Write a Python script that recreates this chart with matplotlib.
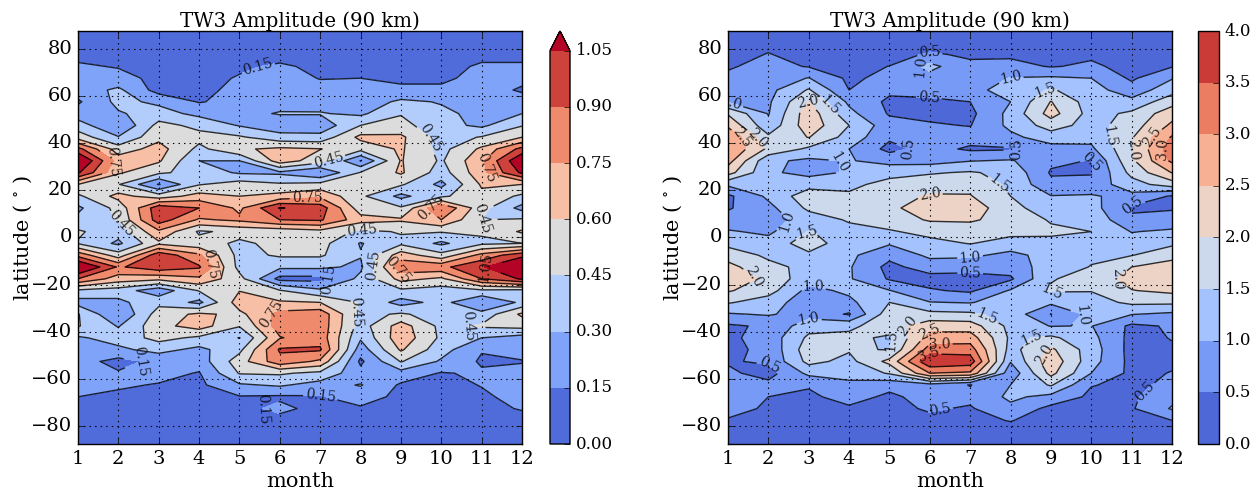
import numpy as np
import matplotlib
matplotlib.use("Agg")
import matplotlib.pyplot as plt

plt.style.use("classic")
plt.rcParams["font.family"] = ["DejaVu Serif"]
plt.rcParams["mathtext.fontset"] = "dejavuserif"

W, H = 1260.0, 490.0

months = [1, 2, 3, 4, 5, 6, 7, 8, 9, 10, 11, 12]
lats = [87.5, 82.5, 77.5, 72.5, 67.5, 62.5, 57.5, 52.5, 47.5, 42.5, 37.5, 32.5,
        27.5, 22.5, 17.5, 12.5, 7.5, 2.5, -2.5, -7.5, -12.5, -17.5, -22.5, -27.5,
        -32.5, -37.5, -42.5, -47.5, -52.5, -57.5, -62.5, -67.5, -72.5, -77.5, -82.5, -87.5]

# one row per month, north to south
left_amp = [
    [.07, .08, .11, .17, .21, .22, .13, .22, .37, .53, .95, 1.25, 1.07, .60, .42, .27, .34, .47, .44, .85, 1.25, .90, .42, .24, .46, .46, .28, .24, .21, .19, .17, .15, .12, .10, .08, .07],
    [.07, .08, .10, .14, .20, .33, .34, .285, .15, .31, .52, .68, .62, .46, .65, .50, .46, .36, .27, .52, .88, .68, .38, .26, .15, .29, .36, .27, .10, .165, .17, .12, .10, .09, .08, .07],
    [.07, .08, .09, .09, .11, .09, .27, .36, .50, .56, .66, .62, .48, .14, .52, 1.0, .98, .72, .57, 1.0, 1.0, .64, .20, .41, .52, .55, .50, .35, .19, .20, .14, .12, .10, .08, .07, .06],
    [.07, .08, .09, .10, .11, .12, .14, .26, .41, .50, .41, .30, .38, .44, .66, .90, .73, .43, .50, .78, .92, .72, .46, .26, .63, .67, .42, .26, .22, .14, .12, .11, .09, .08, .07, .06],
    [.07, .08, .10, .13, .16, .18, .20, .26, .29, .47, .58, .30, .28, .52, .60, .72, .78, .49, .43, .40, .40, .50, .595, .68, .56, .46, .295, .41, .53, .46, .28, .14, .11, .09, .08, .07],
    [.06, .07, .10, .17, .20, .22, .25, .31, .20, .36, .63, .68, .27, .47, .65, 1.06, .90, .50, .48, .47, .33, .10, .46, .62, .80, .82, .74, .92, .85, .47, .32, .13, .18, .11, .08, .07],
    [.07, .08, .09, .12, .145, .19, .24, .31, .20, .35, .605, .52, .15, .50, .72, .98, .92, .55, .50, .47, .33, .10, .33, .60, .85, .85, .84, .92, .72, .41, .24, .14, .11, .09, .08, .07],
    [.07, .08, .09, .10, .15, .18, .21, .27, .45, .64, .50, .145, .46, .52, .48, .52, .66, .42, .29, .31, .27, .34, .38, .44, .40, .38, .32, .22, .12, .20, .31, .22, .13, .10, .08, .07],
    [.07, .08, .09, .10, .12, .18, .33, .44, .50, .63, .62, .61, .62, .47, .26, .47, .62, .46, .42, .68, .85, .65, .42, .24, .47, .67, .70, .62, .46, .24, .13, .11, .10, .09, .08, .07],
    [.07, .08, .09, .10, .12, .18, .29, .33, .35, .38, .40, .43, .38, .26, .42, .90, .75, .46, .27, .50, .86, .57, .38, .35, .38, .41, .42, .36, .28, .14, .11, .10, .09, .08, .07, .06],
    [.06, .08, .11, .17, .20, .22, .24, .26, .27, .46, .63, .72, .70, .62, .56, .50, .45, .47, .42, .80, 1.03, .90, .42, .15, .35, .47, .30, .16, .13, .17, .155, .13, .11, .09, .08, .07],
    [.07, .08, .11, .17, .19, .13, .22, .30, .44, .60, .95, 1.20, 1.08, .60, .42, .25, .47, .62, .45, 1.0, 1.30, 1.07, .40, .33, .63, .50, .24, .22, .14, .20, .20, .19, .16, .10, .08, .07],
]
right_amp = [
    [.25, .30, .35, .45, .60, .75, .95, 1.95, 2.40, 2.95, 2.98, 2.70, 2.20, 1.10, .40, .45, .70, 1.05, 1.35, 1.80, 2.15, 2.40, 2.05, 1.55, .95, .42, .40, .40, .45, .60, .70, .80, .70, .45, .35, .30],
    [.30, .40, .52, .65, .75, .85, .92, .97, 1.15, 1.60, 1.90, 1.10, 1.08, 1.10, 1.10, .85, .75, .90, 1.20, 1.40, 1.65, 1.85, 1.70, 1.25, 1.05, .58, .70, .60, .58, .30, .65, .50, .42, .38, .32, .28],
    [.25, .30, .35, .47, 1.02, 1.55, 2.02, 2.30, 2.30, 2.02, 1.40, .90, .85, 1.30, 1.80, 1.60, 1.25, 1.52, 1.75, 1.40, 1.35, 1.20, .85, .70, .80, 1.30, 1.60, 1.80, 1.65, 1.12, .55, .40, .38, .32, .28, .25],
    [.22, .27, .30, .33, .40, .50, .90, 1.15, 1.50, 1.30, 1.00, 1.03, 1.05, 1.35, 1.60, 1.75, 1.55, 1.35, 1.20, 1.10, 1.05, 1.05, 1.10, .88, .45, 1.40, 1.62, 1.55, 1.35, 1.15, .90, .70, .42, .37, .30, .25],
    [.22, .27, .32, .51, .65, .60, .40, .45, .70, .58, .35, .85, 1.30, 1.70, 1.80, 1.90, 1.75, 1.45, 1.05, .65, .35, .45, 1.02, 1.50, 1.80, 1.75, 1.42, 1.48, 2.15, 1.55, .65, .40, .38, .33, .28, .24],
    [.22, .30, .56, 1.15, .80, .65, .42, .38, .55, .62, .68, .80, 1.45, 1.80, 2.05, 2.25, 2.05, 1.65, 1.35, 1.10, .75, .30, .55, 1.02, 1.65, 2.30, 2.70, 3.25, 3.95, 3.00, .80, .70, .55, .40, .30, .25],
    [.22, .30, .43, .60, .75, .85, .50, .38, .48, .70, .42, .98, 1.55, 1.85, 2.03, 2.25, 2.05, 1.80, 1.52, 1.10, .65, .35, .42, .97, 1.60, 2.25, 2.75, 3.25, 3.80, 2.90, .48, .62, .45, .38, .30, .25],
    [.25, .33, .42, .65, 1.02, 1.20, 1.00, 1.15, 1.12, .88, .45, 1.05, 1.35, 1.40, 1.50, 1.70, 1.85, 1.65, 1.30, .85, .72, .42, 1.05, 1.25, 1.30, 1.35, 1.40, 1.30, 1.03, .65, 1.00, 1.10, .88, .52, .33, .27],
    [.22, .27, .32, .47, 1.08, 1.55, 2.02, 2.20, 1.72, 1.25, .80, .60, .45, .62, 1.02, 1.15, 1.45, 1.60, 1.35, 1.20, 1.25, 1.47, 1.55, 1.10, .49, .98, 1.60, 2.10, 2.35, 2.15, 1.55, .85, .35, .30, .26, .22],
    [.20, .27, .42, .58, 1.00, 1.20, 1.25, 1.30, 1.30, 1.15, .90, .48, .45, .70, 1.05, 1.20, 1.35, 1.50, 1.40, 1.42, 1.52, 1.65, 1.52, 1.30, 1.15, 1.02, 1.15, 1.25, 1.20, 1.00, .52, .40, .38, .32, .27, .22],
    [.20, .25, .30, .35, .42, .72, 1.15, 1.60, 1.75, 1.95, 1.95, 1.90, 1.65, 1.30, .85, .42, .60, .98, 1.20, 1.48, 2.00, 2.20, 1.98, 1.60, 1.02, .40, .35, .32, .35, .38, .40, .42, .45, .35, .28, .22],
    [.28, .32, .38, .47, .97, 1.30, 1.80, 2.30, 2.60, 3.05, 3.30, 3.10, 2.52, 1.75, .45, .45, .70, 1.08, 1.40, 1.85, 2.20, 2.35, 2.12, 1.60, .90, .55, .52, .45, .42, .52, .60, .85, 1.05, .50, .35, .30],
]

left_levels = [0.0, 0.15, 0.30, 0.45, 0.60, 0.75, 0.90, 1.05]
right_levels = [0.0, 0.5, 1.0, 1.5, 2.0, 2.5, 3.0, 3.5, 4.0]

left_labels = [(5.43, 73.4), (7.2, 33), (6.67, 17.4), (1.92, 31.6), (2.0, 4.7), (8.03, 3.3),
               (9.68, 42), (9.75, 12.5), (10.96, 28.8), (11.0, 8.2), (4.2, -12.2), (7.2, -17.6),
               (5.68, -32), (8.03, -32), (2.55, -52.5), (5.46, -73), (7.0, -67.4), (8.4, -12.2),
               (8.93, -13.6), (11.08, -12.2), (10.42, -38.4)]
right_labels = [(5.98, 79.5), (5.7, 73.4), (5.98, 59.2), (1.12, 60), (2.93, 57.8), (3.58, 57),
                (1.3, 42), (1.72, 42), (5.58, 37.7), (3.9, 31.6), (2.41, 7.5), (2.9, 3.3),
                (5.98, 20.3), (7.7, 22.4), (1.62, -17.1), (3.16, -16.4), (3.0, -34), (2.0, -54.7),
                (5.44, -37), (5.14, -44), (5.98, -40), (6.25, -47), (5.95, -49), (7.45, -32.7),
                (7.0, -8.6), (7.0, -15), (6.25, -72.4), (8.0, 69.5), (8.8, 63.5), (10.4, 43),
                (11.0, 37), (11.45, 43), (11.7, 37), (8.15, 38), (10.1, 32.3), (11.0, 15.3),
                (9.03, -22), (9.77, -33), (10.55, -17), (8.53, -42), (8.65, -48), (11.15, -62)]


def box(x0, x1, y0=31.0, y1=444.0):
    return [x0 / W, 1 - y1 / H, (x1 - x0) / W, (y1 - y0) / H]


def panel(fig, x0, x1, cx0, cx1, amp, levels, labels, fmt, extend):
    ax = fig.add_axes(box(x0, x1))
    z = np.array(amp).T
    cf = ax.contourf(months, lats, z, levels=levels, cmap="coolwarm", extend=extend)
    cs = ax.contour(months, lats, z, levels=levels[1:], colors="k", linewidths=1, alpha=0.8)
    ax.clabel(cs, manual=labels, fmt=fmt, fontsize=10, inline=True, inline_spacing=2)
    ax.set_xlim(1, 12)
    ax.set_ylim(-87.5, 87.5)
    ax.set_xticks(months)
    ax.set_yticks([-80, -60, -40, -20, 0, 20, 40, 60, 80])
    ax.tick_params(labelsize=14)
    ax.grid(True, color="k", linestyle=":", linewidth=0.8)
    ax.set_title("TW3 Amplitude (90 km)", fontsize=14.2, pad=3)
    ax.set_xlabel("month", fontsize=15, labelpad=3)
    ax.set_ylabel("latitude ( $^{\\circ}$ )", fontsize=15, labelpad=-2)
    cax = fig.add_axes(box(cx0, cx1))
    cb = fig.colorbar(cf, cax=cax, ticks=levels)
    cb.ax.set_yticklabels([fmt % v for v in levels])
    cb.ax.tick_params(labelsize=12)
    return ax


fig = plt.figure(figsize=(W / 100, H / 100), dpi=100, facecolor="white")
panel(fig, 78, 522, 550, 570, left_amp, left_levels, left_labels, "%.2f", "max")
panel(fig, 728, 1172, 1198, 1219, right_amp, right_levels, right_labels, "%.1f", "neither")
fig.savefig("out.png", dpi=100, facecolor="white")
